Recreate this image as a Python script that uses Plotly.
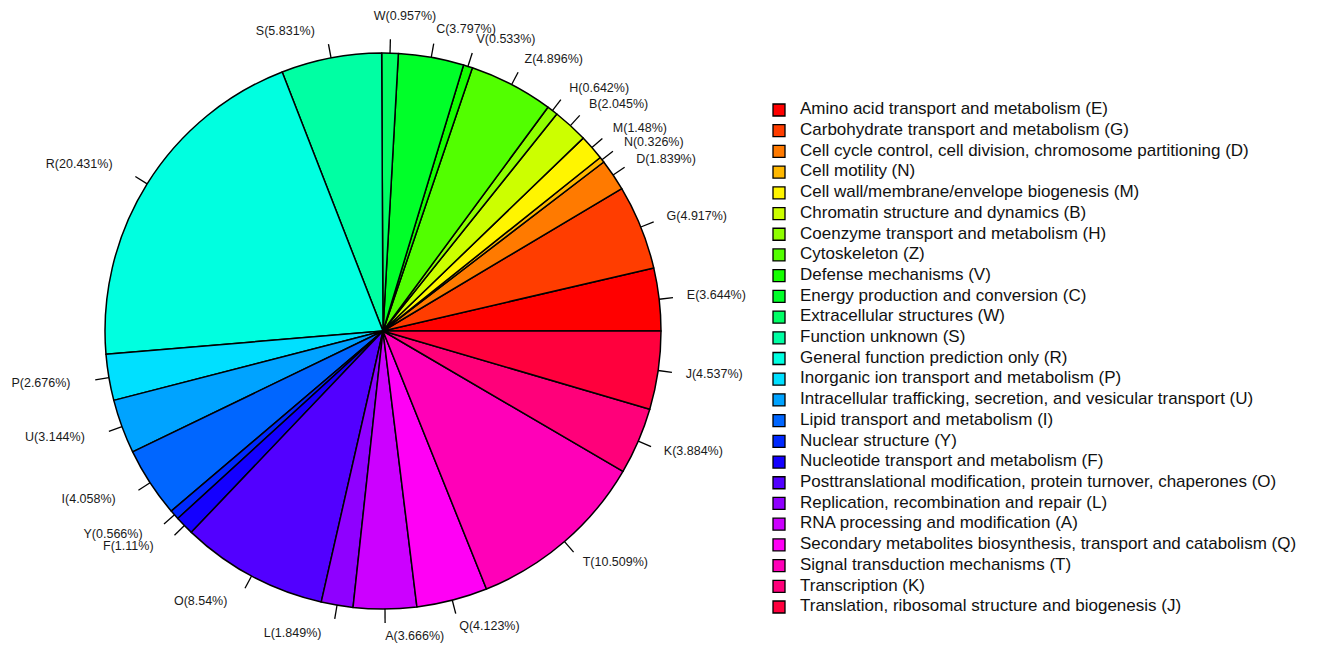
import numpy as np
import plotly.graph_objects as go

# ---- data ----
codes = ["E", "G", "D", "N", "M", "B", "H", "Z", "V", "C", "W", "S", "R",
         "P", "U", "I", "Y", "F", "O", "L", "A", "Q", "T", "K", "J"]
percents = [3.644, 4.917, 1.839, 0.326, 1.48, 2.045, 0.642, 4.896, 0.533,
            3.797, 0.957, 5.831, 20.431, 2.676, 3.144, 4.058, 0.566, 1.11,
            8.54, 1.849, 3.666, 4.123, 10.509, 3.884, 4.537]
names = [
    "Amino acid transport and metabolism (E)",
    "Carbohydrate transport and metabolism (G)",
    "Cell cycle control, cell division, chromosome partitioning (D)",
    "Cell motility (N)",
    "Cell wall/membrane/envelope biogenesis (M)",
    "Chromatin structure and dynamics (B)",
    "Coenzyme transport and metabolism (H)",
    "Cytoskeleton (Z)",
    "Defense mechanisms (V)",
    "Energy production and conversion (C)",
    "Extracellular structures (W)",
    "Function unknown (S)",
    "General function prediction only (R)",
    "Inorganic ion transport and metabolism (P)",
    "Intracellular trafficking, secretion, and vesicular transport (U)",
    "Lipid transport and metabolism (I)",
    "Nuclear structure (Y)",
    "Nucleotide transport and metabolism (F)",
    "Posttranslational modification, protein turnover, chaperones (O)",
    "Replication, recombination and repair (L)",
    "RNA processing and modification (A)",
    "Secondary metabolites biosynthesis, transport and catabolism (Q)",
    "Signal transduction mechanisms (T)",
    "Transcription (K)",
    "Translation, ribosomal structure and biogenesis (J)",
]
colors = ["#FF0000", "#FF3D00", "#FF7A00", "#FFB800", "#FFF500", "#CCFF00",
          "#8FFF00", "#52FF00", "#14FF00", "#00FF29", "#00FF66", "#00FFA3",
          "#00FFE0", "#00E0FF", "#00A3FF", "#0066FF", "#0029FF", "#1400FF",
          "#5200FF", "#8F00FF", "#CC00FF", "#FF00F5", "#FF00B8", "#FF007A",
          "#FF003D"]

# ---- layout constants (page pixels) ----
W, H = 1338, 647
OFF = 8                      # default body margin of the html page
FW, FH = W - OFF, H - OFF    # figure size
cx, cy, rad = 383, 331, 278
FONT = "Liberation Sans, Arial, Helvetica, sans-serif"
# small label nudges (pixels) to avoid overlaps, as in the reference
nudge = {"W": (-17, -8), "R": (0, -6)}

vals = np.array(percents)
frac = vals / vals.sum()
mid = np.cumsum(frac) - frac / 2
ang = mid * 2 * np.pi
cs, sn = np.cos(ang), np.sin(ang)

tx, ty = [], []
for c, s in zip(cs, sn):
    tx += [cx + rad * c, cx + 1.05 * rad * c, None]
    ty += [cy - rad * s, cy - 1.05 * rad * s, None]

lx, ly = [], []
for k, c, s in zip(codes, cs, sn):
    dx, dy = nudge.get(k, (0, 0))
    lx.append(cx + 1.1 * rad * c + (-11 if c < 0 else 0) + dx)
    ly.append(cy - 1.1 * rad * s + (1.5 if c < 0 else 0) + dy)
lpos = ["middle left" if c < 0 else "middle right" for c in cs]
ltext = [f"{k}({v:g}%)" for k, v in zip(codes, percents)]

fig = go.Figure()
fig.add_trace(go.Pie(
    values=percents, labels=codes, sort=False, direction="counterclockwise",
    rotation=90 - frac[0] * 360, textinfo="none", showlegend=False,
    marker=dict(colors=colors, line=dict(color="black", width=1.5)),
    domain=dict(x=[(cx - rad - OFF) / FW, (cx + rad - OFF) / FW],
                y=[(H - cy - rad) / FH, (H - cy + rad) / FH]),
))
fig.add_trace(go.Scatter(x=tx, y=ty, mode="lines", hoverinfo="skip",
                         line=dict(color="black", width=1.3), showlegend=False))
fig.add_trace(go.Scatter(x=lx, y=ly, mode="text", text=ltext, textposition=lpos,
                         textfont=dict(family=FONT, size=12.5, color="#1a1a1a"),
                         hoverinfo="skip", showlegend=False))

# legend built as a scatter on an index axis
idx = list(range(len(names)))
fig.add_trace(go.Scatter(x=[779] * len(idx), y=idx, yaxis="y2", mode="markers",
                         marker=dict(symbol="square", size=12, color=colors,
                                     line=dict(color="black", width=1.3)),
                         hoverinfo="skip", showlegend=False))
fig.add_trace(go.Scatter(x=[800] * len(idx), y=idx, yaxis="y2", mode="text",
                         text=names, textposition="middle right",
                         textfont=dict(family=FONT, size=17, color="#111"),
                         hoverinfo="skip", showlegend=False))

row_h = (607 - 110) / 24.0
fig.update_layout(
    width=FW, height=FH, margin=dict(l=0, r=0, t=0, b=0),
    paper_bgcolor="white", plot_bgcolor="rgba(0,0,0,0)", showlegend=False,
    xaxis=dict(range=[OFF, W], visible=False, fixedrange=True),
    yaxis=dict(range=[H, OFF], visible=False, fixedrange=True),
    yaxis2=dict(range=[24 + (H - 607) / row_h, -(110 - OFF) / row_h],
                overlaying="y", visible=False, fixedrange=True),
)
fig.write_html("out.html")
